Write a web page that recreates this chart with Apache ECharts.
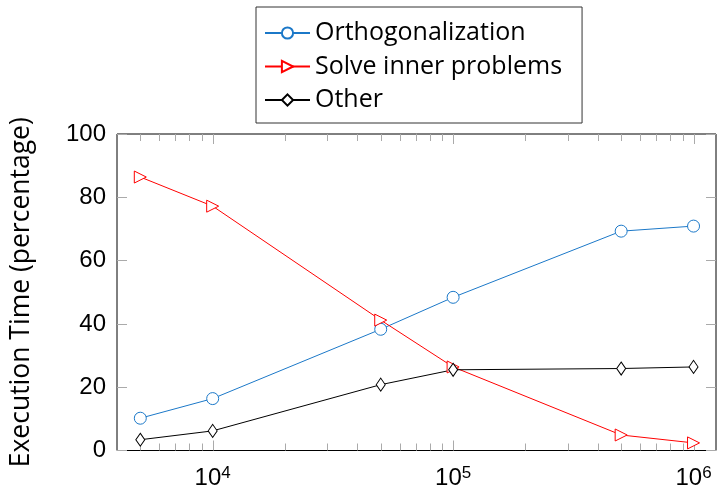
<!DOCTYPE html>
<html><head><meta charset="utf-8">
<script src="https://cdn.jsdelivr.net/npm/echarts@6/dist/echarts.min.js"></script>
<style>html,body{margin:0;padding:0;background:#fff}#c{width:722px;height:490px}</style>
</head><body><div id="c"></div>
<script>
const xValues = [5000, 10000, 50000, 100000, 500000, 1000000];
const orthoValues = [10.2, 16.4, 38.3, 48.4, 69.3, 70.9];
const solveValues = [86.4, 77.2, 41.2, 26.4, 4.9, 2.4];
const otherValues = [3.4, 6.2, 20.8, 25.5, 25.9, 26.4];
const seriesNames = ['Orthogonalization', 'Solve inner problems', 'Other'];
const yTicks = [0, 20, 40, 60, 80, 100];
const minorTickValues = [5000, 6000, 7000, 8000, 9000, 20000, 30000, 40000, 50000, 60000, 70000, 80000, 90000, 200000, 300000, 400000, 500000, 600000, 700000, 800000, 900000];
const majorTickValues = [10000, 100000, 1000000];

const FONT = 'Liberation Sans';
const TFONT = 'Open Sans';
const xMin = 4000, xMax = 1240000;
const tickColor = '#aaaaaa';

function pairs(vals){ return xValues.map((x,i)=>[x, vals[i]]); }

function tickSeries(values, len){
  return {
    type: 'custom', silent: true, z: 1, clip: false,
    data: values.map(v => [v, 0]),
    renderItem: function(params, api){
      const cs = params.coordSys;
      const p = api.coord([api.value(0), 0]);
      const x = Math.round(p[0]) + 0.5;
      const st = {stroke: tickColor, lineWidth: 1};
      return {type: 'group', children: [
        {type: 'line', shape: {x1: x, y1: cs.y + cs.height, x2: x, y2: cs.y + cs.height - len}, style: st},
        {type: 'line', shape: {x1: x, y1: cs.y, x2: x, y2: cs.y + len}, style: st}
      ]};
    }
  };
}

const chart = echarts.init(document.getElementById('c'));
chart.setOption({
  animation: false,
  grid: {left: 116, right: 6, top: 134, bottom: 37, show: true, borderColor: '#000', borderWidth: 1, backgroundColor: 'transparent'},
  legend: {
    orient: 'vertical', left: 256, top: 7,
    padding: [13, 20, 10, 8],
    borderColor: '#333', borderWidth: 1,
    itemWidth: 45, itemHeight: 14, itemGap: 7.5,
    textStyle: {fontFamily: TFONT, fontSize: 25, color: '#000', lineHeight: 26},
    data: seriesNames
  },
  xAxis: [{
    type: 'log', logBase: 10, min: xMin, max: xMax,
    axisLine: {show: false}, axisTick: {show: false}, splitLine: {show: false},
    axisLabel: {
      showMinLabel: false, showMaxLabel: false, margin: 14,
      formatter: function(v){
        const e = Math.log10(v); const r = Math.round(e);
        if (Math.abs(e - r) > 1e-6) return '';
        return '{b|10}{s|' + r + '}';
      },
      rich: {
        b: {fontFamily: FONT, fontSize: 24, color: '#000'},
        s: {fontFamily: FONT, fontSize: 17, color: '#000', verticalAlign: 'top', padding: [0,0,10,0]}
      }
    }
  }],
  yAxis: [{
    type: 'value', min: 0, max: 100, interval: 20,
    name: 'Execution Time (percentage)', nameLocation: 'middle', nameGap: 82,
    nameTextStyle: {fontFamily: TFONT, fontSize: 26.5, color: '#000'},
    axisLine: {show: false},
    axisTick: {show: true, inside: true, length: 10, lineStyle: {color: tickColor}},
    splitLine: {show: false},
    axisLabel: {fontFamily: FONT, fontSize: 24, color: '#000', margin: 11}
  }, {
    type: 'value', min: 0, max: 100, interval: 20, position: 'right',
    axisLine: {show: false},
    axisTick: {show: true, inside: true, length: 10, lineStyle: {color: tickColor}},
    splitLine: {show: false}, axisLabel: {show: false}
  }],
  series: [
    tickSeries(minorTickValues, 7),
    tickSeries(majorTickValues, 10),
    {name: seriesNames[0], type: 'line', data: pairs(orthoValues), z: 3,
     symbol: 'circle', symbolSize: 12,
     lineStyle: {color: '#1b78c8', width: 1}, itemStyle: {color: '#fff', borderColor: '#1b78c8', borderWidth: 1}, color: '#1b78c8'},
    {name: seriesNames[1], type: 'line', data: pairs(solveValues), z: 3,
     symbol: 'triangle', symbolSize: 12, symbolRotate: -90,
     lineStyle: {color: '#ff0000', width: 1}, itemStyle: {color: '#fff', borderColor: '#ff0000', borderWidth: 1}, color: '#ff0000'},
    {name: seriesNames[2], type: 'line', data: pairs(otherValues), z: 3,
     symbol: 'diamond', symbolSize: [9, 13],
     lineStyle: {color: '#000', width: 1}, itemStyle: {color: '#fff', borderColor: '#000', borderWidth: 1}, color: '#000'}
  ]
});
</script></body></html>
